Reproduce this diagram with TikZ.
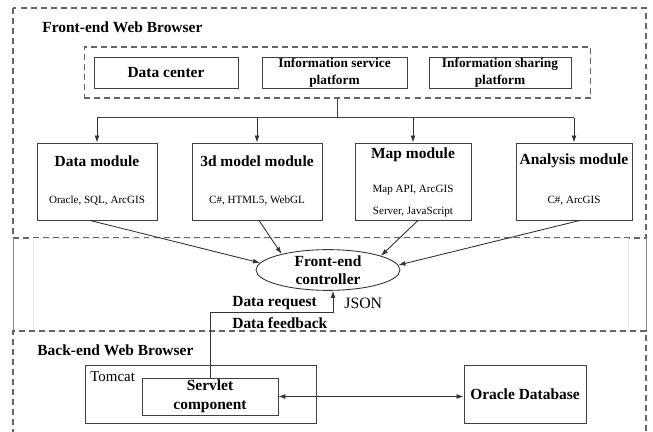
\documentclass[tikz,border=0pt]{standalone}
\usepackage{fontspec}
\setmainfont{Liberation Serif}
\usetikzlibrary{arrows.meta,shapes.geometric,calc}
\tikzset{
  pane/.style={draw=black!60, line width=0.6pt, dash pattern=on 3.4pt off 2.3pt},
  box/.style={draw=black!75, line width=0.5pt, inner sep=0pt},
  ttl/.style={inner sep=0pt, align=center, font=\fontsize{8.8}{10.2}\selectfont\bfseries},
  sml/.style={inner sep=0pt, align=center, font=\fontsize{6.3}{7.6}\selectfont},
  arr/.style={draw=black!80, line width=0.5pt, -{Latex[length=4pt,width=2.8pt]}},
}
\begin{document}
\begin{tikzpicture}[x=0.02cm,y=-0.02cm]
\useasboundingbox (0,0) rectangle (653,432);
% the two panes
\draw[pane] (13,8) rectangle (646,238);
\draw[black!45, line width=0.5pt] (13,238) -- (13,331) (646,238) -- (646,331);
\draw[black!8, line width=0.4pt] (33,238) rectangle (628,331);
\draw[pane] (13,445) -- (13,331) -- (646,331) -- (646,445);
\node[ttl, anchor=west] (fe) at (42,27) {Front-end Web Browser};
\node[ttl, anchor=west] (be) at (37,350) {Back-end Web Browser};
% platforms
\node[pane, minimum width=10.14cm, minimum height=1.02cm] (plat) at (337.5,72.5) {};
\node[box, minimum width=2.88cm, minimum height=0.62cm, font=\fontsize{8.8}{10}\selectfont\bfseries] (dc) at (166,72.5) {Data center};
\node[box, minimum width=2.9cm, minimum height=0.62cm, align=center, font=\fontsize{7.6}{9.6}\selectfont\bfseries] (isp) at (334.5,72.5) {Information service\\platform};
\node[box, minimum width=2.84cm, minimum height=0.62cm, align=center, font=\fontsize{7.6}{9.6}\selectfont\bfseries] (ishp) at (500,72.5) {Information sharing\\platform};
% modules
\node[box, minimum width=2.4cm, minimum height=1.54cm] (dm) at (97,181.5) {};
\node[box, minimum width=2.6cm, minimum height=1.54cm] (mm) at (257,181.5) {};
\node[box, minimum width=2.32cm, minimum height=1.54cm] (mp) at (413,181.5) {};
\node[box, minimum width=2.32cm, minimum height=1.54cm] (am) at (574,181.5) {};
\node[ttl] (dm-t) at (97,161) {Data module};
\node[sml] (dm-s) at (97,201) {Oracle, SQL, ArcGIS};
\node[ttl] (mm-t) at (257,161) {3d model module};
\node[sml] (mm-s) at (257,201) {C\#, HTML5, WebGL};
\node[ttl] (mp-t) at (413,155) {Map module};
\node[sml, font=\fontsize{6.3}{13}\selectfont] (mp-s) at (413,201) {Map API, ArcGIS\\Server, JavaScript};
\node[ttl] (am-t) at (574,161) {Analysis module};
\node[sml] (am-s) at (574,201) {C\#, ArcGIS};
\draw[box] (plat.south) -- ++(0,19) coordinate (hub);
\draw[box] (hub -| dm.north) -- (hub -| am.north);
\foreach \m in {dm,mm,mp,am}
  \draw[arr] (hub -| \m.north) -- (\m.north);
% controller
\node[ellipse, draw=black!80, line width=0.5pt, minimum width=2.88cm, minimum height=0.8cm, ttl] (ctrl) at (328,270) {Front-end\\controller};
\draw[arr] ([xshift=-0.14cm]dm.south) -- (ctrl.174);
\draw[arr] ([xshift=0.04cm]mm.south) -- (ctrl.161);
\draw[arr] ([xshift=0.1cm]mp.south) -- (ctrl.15);
\draw[arr] ([xshift=0.12cm]am.south) -- (ctrl.4);
% back end
\node[box, minimum width=4.62cm, minimum height=1.16cm] (tc) at (200.5,394) {};
\node[inner sep=0pt, anchor=west, font=\fontsize{8.5}{10}\selectfont] (tc-l) at (90,377) {Tomcat};
\node[box, minimum width=2.72cm, minimum height=0.74cm, ttl, font=\fontsize{8.8}{10.8}\selectfont\bfseries] (sv) at (210,396.5) {Servlet\\component};
\node[box, minimum width=2.44cm, minimum height=1.16cm, ttl] (ora) at (525,394) {Oracle Database};
\draw[arr, {Latex[length=4pt,width=2.8pt]}-{Latex[length=4pt,width=2.8pt]}] (sv.east) -- (sv.east -| ora.west);
\draw[arr] (sv.north) -- ++(0,-65) -| ([xshift=0.1cm]ctrl.south);
\node[ttl, anchor=west] (req) at (232,303) {Data request};
\node[ttl, anchor=west] (fb) at (232,323) {Data feedback};
\node[inner sep=0pt, anchor=west, font=\fontsize{9}{10}\selectfont] (json) at (344,303) {JSON};
\end{tikzpicture}
\end{document}
